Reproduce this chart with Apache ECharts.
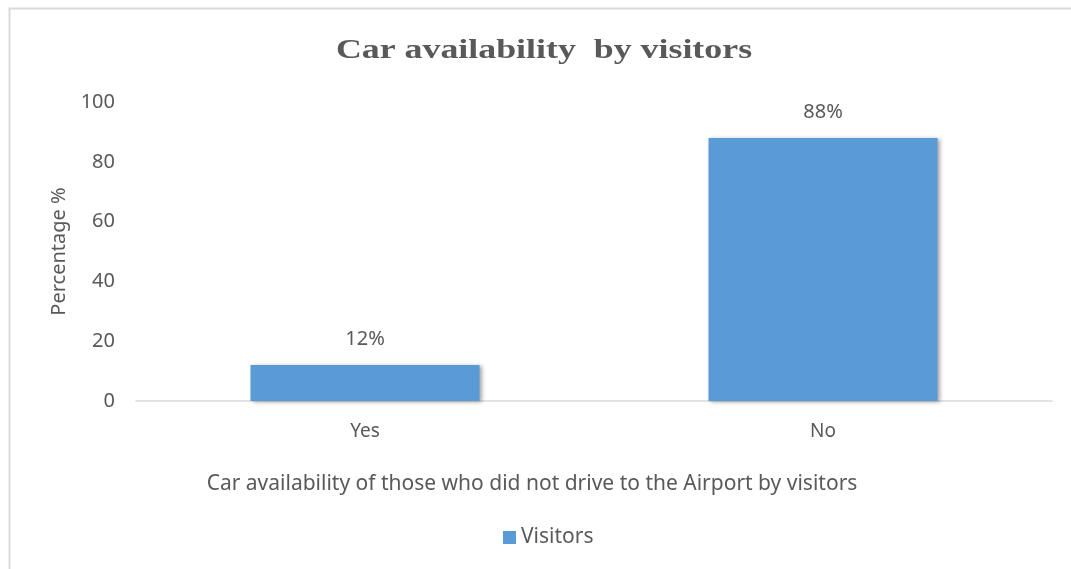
<!DOCTYPE html>
<html>
<head>
<meta charset="utf-8">
<style>
  html, body { margin: 0; padding: 0; background: #ffffff; }
  #chart { width: 1071px; height: 569px; }
</style>
<script src="https://cdn.jsdelivr.net/npm/echarts@6/dist/echarts.min.js"></script>
</head>
<body>
<div id="chart"></div>
<script>
// Share of visitors (who did not drive) with a car available
const categories = ['Yes', 'No'];
const visitorValues = [12, 88];
const yTicks = [0, 20, 40, 60, 80, 100];

const labelFont = '"Noto Sans", "Open Sans", sans-serif';
const textColor = '#595959';

const chart = echarts.init(document.getElementById('chart'), null, { renderer: 'canvas' });

chart.setOption({
  backgroundColor: '#ffffff',
  animation: false,
  graphic: [{
    // outer chart frame
    type: 'rect',
    left: 7,
    top: 6,
    shape: { x: 0, y: 0, width: 1200, height: 700 },
    style: { fill: 'none', stroke: '#d9d9d9', lineWidth: 2 },
    silent: true,
    z: -1
  }, {
    // chart title, a wide bold serif
    type: 'text',
    x: 544,
    y: 51,
    scaleX: 1.28,
    style: {
      text: 'Car availability  by visitors',
      font: 'bold 28px "Liberation Serif", "Times New Roman", serif',
      fill: textColor,
      align: 'center',
      verticalAlign: 'middle'
    },
    silent: true
  }, {
    // x-axis caption, centred under the chart body
    type: 'text',
    x: 532,
    y: 484,
    style: {
      text: 'Car availability of those who did not drive to the Airport by visitors',
      font: '21px "Noto Sans", "Open Sans", sans-serif',
      fill: textColor,
      align: 'center',
      verticalAlign: 'middle'
    },
    silent: true
  }],
  legend: {
    data: ['Visitors'],
    top: 522,
    left: 498,
    icon: 'rect',
    itemWidth: 13,
    itemHeight: 13,
    itemGap: 4,
    textStyle: { fontFamily: labelFont, fontSize: 21, color: textColor }
  },
  grid: { left: 136, right: 19, top: 102, bottom: 168 },
  xAxis: {
    type: 'category',
    data: categories,
    axisLine: { lineStyle: { color: '#d9d9d9', width: 1.5 } },
    axisTick: { show: false },
    axisLabel: { fontFamily: labelFont, fontSize: 19, color: textColor, margin: 21 }
  },
  yAxis: {
    type: 'value',
    min: yTicks[0],
    max: yTicks[yTicks.length - 1],
    interval: yTicks[1] - yTicks[0],
    name: 'Percentage %',
    nameLocation: 'middle',
    nameGap: 67,
    nameTextStyle: { fontFamily: labelFont, fontSize: 20, color: textColor },
    axisLine: { show: false },
    axisTick: { show: false },
    splitLine: { show: false },
    axisLabel: { fontFamily: labelFont, fontSize: 20, color: textColor, margin: 21 }
  },
  series: [{
    name: 'Visitors',
    type: 'bar',
    data: visitorValues,
    barWidth: '50%',
    itemStyle: {
      color: '#5b9bd5',
      shadowColor: 'rgba(0,0,0,0.35)',
      shadowBlur: 4,
      shadowOffsetX: 2,
      shadowOffsetY: 1
    },
    label: {
      show: true,
      position: 'top',
      distance: 16,
      formatter: p => p.value + '%',
      fontFamily: labelFont,
      fontSize: 20,
      color: textColor
    }
  }]
});
</script>
</body>
</html>
